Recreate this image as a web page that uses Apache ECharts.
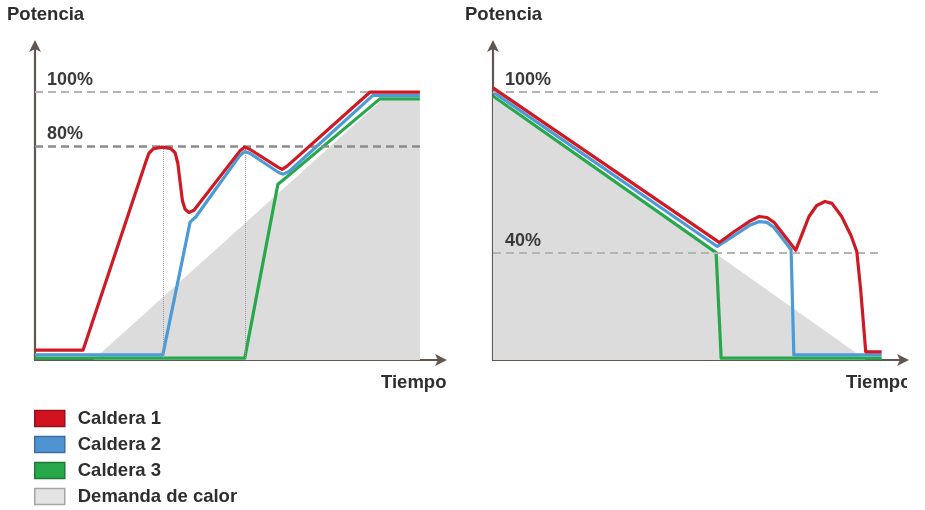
<!DOCTYPE html>
<html>
<head>
<meta charset="utf-8">
<script src="https://cdn.jsdelivr.net/npm/echarts@6/dist/echarts.min.js"></script>
<style>
  html, body { margin: 0; padding: 0; background: #ffffff; }
  #chart { width: 925px; height: 510px; }
</style>
</head>
<body>
<div id="chart"></div>
<script>
// Boiler output against time: start-up (left) and shut-down (right) sequences.
// x = time (0..100 across the plotted span), y = power in % of nominal.

const seriesNames = ['Caldera 1', 'Caldera 2', 'Caldera 3', 'Demanda de calor'];
const lineColors = ['#cf1a24', '#4c9ad6', '#27a84a', '#dcdcdc'];

// Start-up sequence
const upBoiler1 = [
  [0, 3.7], [12.5, 3.7], [28.8, 74], [29.6, 77.2], [30.8, 78.9], [33, 79.5],
  [35.2, 79], [36.4, 77.4], [37.1, 73.5], [37.7, 66.5], [38.3, 59.5], [39, 56.3],
  [40, 55.1], [41.3, 55.9], [53.2, 78], [54.5, 79.5], [55.8, 78.7],
  [63.1, 72], [64.2, 71.2], [65.5, 72.4], [87, 100], [100, 100]
];
const upBoiler2 = [
  [0, 1.9], [33.2, 1.9], [40.3, 51.5], [41.8, 53.5], [53.2, 76.3], [54.5, 77.9],
  [55.8, 77.2], [63.3, 70], [64.5, 69.4], [66, 70.4], [87.8, 98.8], [100, 98.8]
];
const upBoiler3 = [
  [0, 0.7], [54.5, 0.7], [63.1, 65.6], [64.4, 67.1], [89.6, 97.5], [100, 97.5]
];
const upDemand = [
  [15.1, 0], [90.4, 97.5], [100, 97.5]
];

// Shut-down sequence
const downBoiler1 = [
  [0, 101.6], [58.2, 43.9], [62.1, 48], [65.9, 51.7], [68.5, 53.6], [70.5, 53.2],
  [72.3, 51.4], [77.9, 41], [79.5, 46.9], [81.3, 53.6], [83.3, 57.7], [85.4, 59.2],
  [87.2, 58.5], [89.7, 53.6], [92.1, 46.5], [93.6, 40.5], [94.6, 26.2],
  [95.9, 3], [100, 3]
];
const downBoiler2 = [
  [0, 100.1], [57.7, 42.4], [62.1, 46.5], [65.9, 50.2], [68.5, 51.7], [70.5, 51.4],
  [72.3, 49.5], [76.7, 41.2], [77.4, 1.9], [100, 1.9]
];
const downBoiler3 = [
  [0, 98.6], [57.4, 40.1], [58.7, 0.7], [100, 0.7]
];
const downDemand = [
  [0, 98.6], [96, 0]
];

// Reference levels and switching instants
const upLevels = [100, 80];
const downLevels = [100, 40];
const upSwitchTimes = [33.2, 54.5];

const FONT = '"Liberation Sans", Arial, sans-serif';
const axisColor = '#62574f';

function xAxisFor(gridIndex) {
  return {
    type: 'value', gridIndex, min: 0, max: 106,
    axisLine: { show: true, symbol: ['none', 'arrow'], symbolSize: [9, 12], symbolOffset: [0, 4],
                lineStyle: { color: axisColor, width: 2.2 } },
    axisTick: { show: false }, axisLabel: { show: false }, splitLine: { show: false }
  };
}
function yAxisFor(gridIndex) {
  return {
    type: 'value', gridIndex, min: 0, max: 118,
    axisLine: { show: true, symbol: ['none', 'arrow'], symbolSize: [9, 12], symbolOffset: [0, 4],
                lineStyle: { color: axisColor, width: 2.2 } },
    axisTick: { show: false }, axisLabel: { show: false }, splitLine: { show: false }
  };
}

function levelLines(levels, strongLevel) {
  return levels.map(v => [
    { coord: [0, v],
      lineStyle: { color: v === strongLevel ? '#8c8c8c' : '#b4b4b4', width: v === strongLevel ? 2.5 : 2, type: [8, 5] },
      label: { show: true, formatter: v + '%', position: 'insideStartTop', distance: [12, 3],
               color: '#3a3a3a', fontSize: 18, fontWeight: 'bold', fontFamily: FONT } },
    { coord: [100, v] }
  ]);
}
function switchLines(times, top) {
  return times.map(t => [
    { coord: [t, 0], lineStyle: { color: '#9a9a9a', width: 1, type: 'dotted' }, label: { show: false } },
    { coord: [t, top] }
  ]);
}

function panelSeries(idx, demand, b3, b2, b1, marks) {
  const common = { xAxisIndex: idx, yAxisIndex: idx, symbol: 'none', silent: true, animation: false };
  return [
    Object.assign({}, common, {
      name: seriesNames[3], type: 'line', data: demand, color: lineColors[3],
      lineStyle: { width: 0 }, areaStyle: { color: lineColors[3], opacity: 1 }, z: 1,
      markLine: { silent: true, symbol: 'none', animation: false, data: marks }
    }),
    Object.assign({}, common, { name: seriesNames[2], type: 'line', data: b3, color: lineColors[2], lineStyle: { width: 3.2, join: 'round' }, z: 3 }),
    Object.assign({}, common, { name: seriesNames[1], type: 'line', data: b2, color: lineColors[1], lineStyle: { width: 3.2, join: 'round' }, z: 4 }),
    Object.assign({}, common, { name: seriesNames[0], type: 'line', data: b1, color: lineColors[0], lineStyle: { width: 3.2, join: 'round' }, z: 5 })
  ];
}

const chart = echarts.init(document.getElementById('chart'), null, { renderer: 'canvas' });

const legendSwatches = [
  { name: seriesNames[0], itemStyle: { color: '#d0131f', borderColor: '#94101a', borderWidth: 1.5 } },
  { name: seriesNames[1], itemStyle: { color: '#4f93d3', borderColor: '#3a6f9e', borderWidth: 1.5 } },
  { name: seriesNames[2], itemStyle: { color: '#27a84a', borderColor: '#1c7a36', borderWidth: 1.5 } },
  { name: seriesNames[3], itemStyle: { color: '#e4e4e4', borderColor: '#a5a5a5', borderWidth: 1.5 } }
];

chart.setOption({
  backgroundColor: '#ffffff',
  animation: false,
  textStyle: { fontFamily: FONT },
  grid: [
    { left: 35, top: 44, width: 408, height: 316 },
    { left: 493, top: 44, width: 412, height: 316 }
  ],
  xAxis: [xAxisFor(0), xAxisFor(1)],
  yAxis: [yAxisFor(0), yAxisFor(1)],
  legend: {
    orient: 'vertical', left: 34, top: 409, height: 150, padding: 0,
    itemWidth: 30, itemHeight: 16, itemGap: 7,
    icon: 'rect', selectedMode: false,
    textStyle: { fontSize: 18.5, fontWeight: 'bold', color: '#2e2e2e', fontFamily: FONT, padding: [0, 0, 0, 8] },
    data: legendSwatches
  },
  graphic: [
    { type: 'text', left: 7, top: 5, style: { text: 'Potencia', font: 'bold 18.5px ' + FONT, fill: '#2e2e2e' } },
    { type: 'text', left: 465, top: 5, style: { text: 'Potencia', font: 'bold 18.5px ' + FONT, fill: '#2e2e2e' } },
    { type: 'text', left: 381, top: 373, style: { text: 'Tiempo', font: 'bold 18.5px ' + FONT, fill: '#2e2e2e' } },
    { type: 'text', left: 846, top: 373, style: { text: 'Tiempo', font: 'bold 18.5px ' + FONT, fill: '#2e2e2e' } },
    { type: 'rect', left: 907, top: 368, shape: { width: 18, height: 30 }, style: { fill: '#ffffff' }, z: 100 }
  ],
  series: [
    ...panelSeries(0, upDemand, upBoiler3, upBoiler2, upBoiler1,
                   levelLines(upLevels, 80).concat(switchLines(upSwitchTimes, 80))),
    ...panelSeries(1, downDemand, downBoiler3, downBoiler2, downBoiler1,
                   levelLines(downLevels, null))
  ]
});
</script>
</body>
</html>
